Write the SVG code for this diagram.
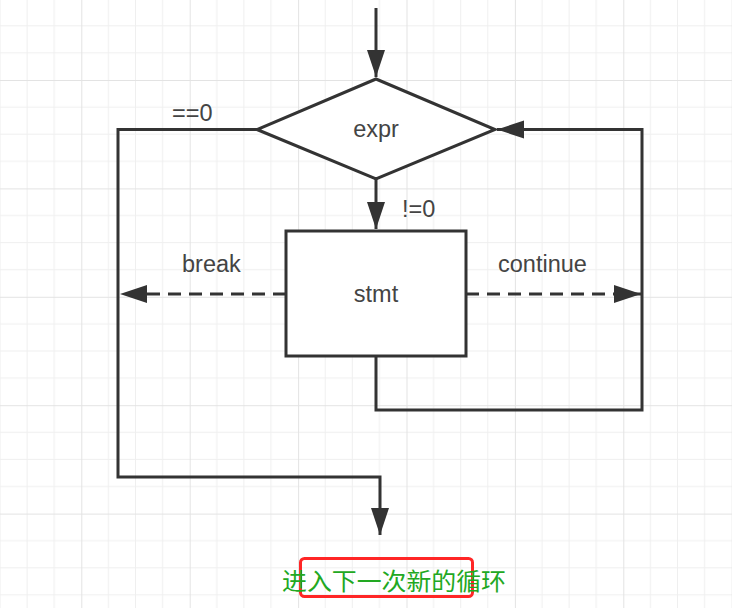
<svg xmlns="http://www.w3.org/2000/svg" width="732" height="608" viewBox="0 0 732 608">
  <defs>
    <pattern id="grid" patternUnits="userSpaceOnUse" x="-27.1" y="-28.4" width="108.4" height="108.4">
      <path d="M27.1,0V108.4M54.2,0V108.4M81.3,0V108.4M0,27.1H108.4M0,54.2H108.4M0,81.3H108.4" stroke="#efefef" stroke-width="1" fill="none"/>
      <path d="M0.5,0V108.4M0,0.5H108.4" stroke="#e3e3e3" stroke-width="1" fill="none"/>
    </pattern>
    <marker id="arrow" markerUnits="userSpaceOnUse" markerWidth="28" markerHeight="20" refX="27" refY="9" orient="auto">
      <path d="M0,0 L27,9 L0,18 Z" fill="#333"/>
    </marker>
    <style>
      .lbl { font-family: "Liberation Sans", Arial, sans-serif; font-size: 23.5px; fill: #444; }
      .shape { fill: #fff; stroke: #333; stroke-width: 3; }
      .conn { fill: none; stroke: #333; stroke-width: 3; marker-end: url(#arrow); }
      .dash { stroke-dasharray: 13 8; }
    </style>
  </defs>
  <rect width="732" height="608" fill="#fff"/>
  <rect width="732" height="608" fill="url(#grid)"/>

  <g id="connectors">
    <path class="conn" d="M376,8 V77"/>
    <path class="conn" d="M376,179 V229"/>
    <path class="conn" d="M257,129.5 H118 V477 H380 V535"/>
    <path class="conn dash" d="M286,294 H120"/>
    <path class="conn dash" d="M466,294 H641"/>
    <path class="conn" d="M376,356 V410 H642 V129.5 H497"/>
  </g>

  <g id="expr">
    <polygon class="shape" points="376,79 495,129.5 376,179 257,129.5"/>
    <text class="lbl" x="376" y="137" text-anchor="middle">expr</text>
  </g>

  <g id="stmt">
    <rect class="shape" x="286" y="231" width="180" height="125"/>
    <text class="lbl" x="376" y="302" text-anchor="middle">stmt</text>
  </g>

  <g id="labels">
    <text class="lbl" x="172" y="121">==0</text>
    <text class="lbl" x="402" y="217">!=0</text>
    <text class="lbl" x="182" y="272">break</text>
    <text class="lbl" x="498" y="272">continue</text>
  </g>

  <g id="next">
    <rect x="300.5" y="558.5" width="172" height="38" rx="4" fill="none" stroke="#ff2626" stroke-width="3"/>
    <text x="282" y="590" font-family="'Noto Sans CJK SC', sans-serif" font-size="24" fill="#22a822" textLength="224" lengthAdjust="spacingAndGlyphs">进入下一次新的循环</text>
  </g>
</svg>
